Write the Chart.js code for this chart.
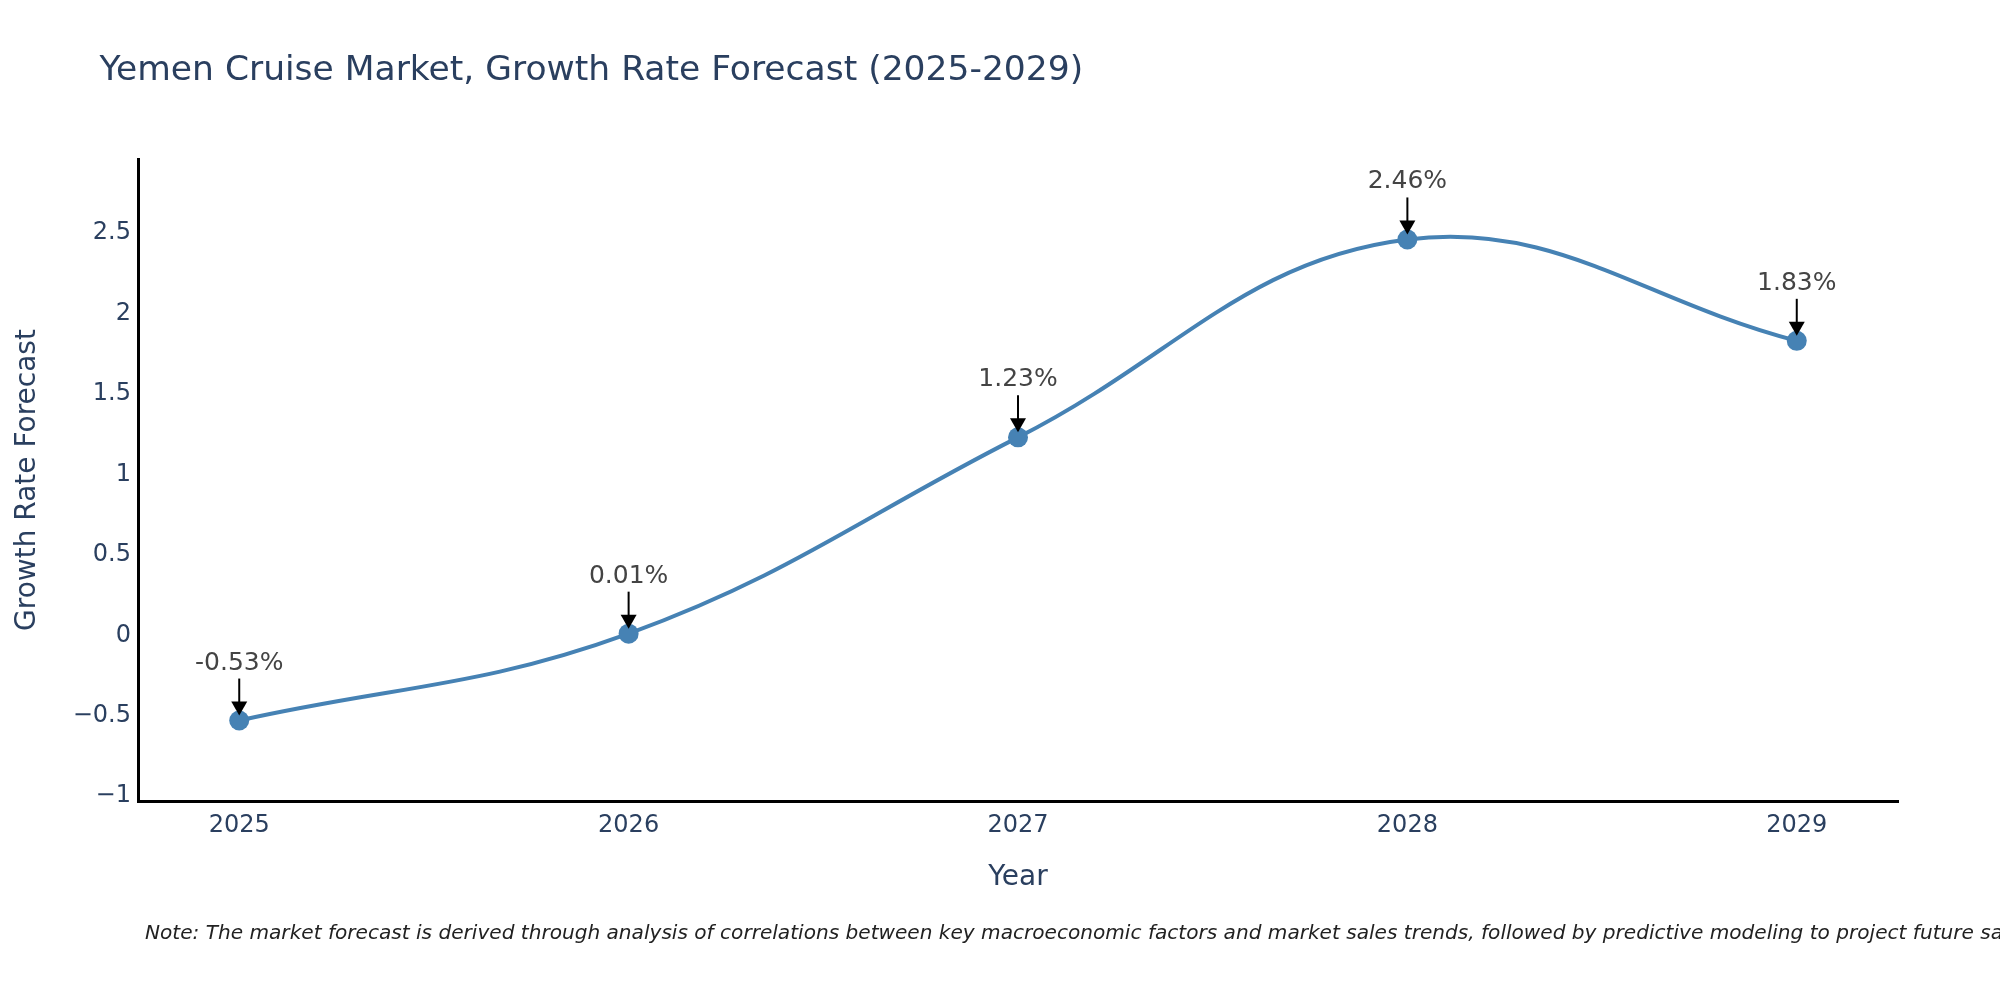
<!DOCTYPE html>
<html>
<head>
<meta charset="utf-8">
<script src="https://cdn.jsdelivr.net/npm/chart.js@4.4.0/dist/chart.umd.min.js"></script>
<style>
html,body{margin:0;padding:0;background:#fff;}
#c{display:block;}
</style>
</head>
<body>
<canvas id="c" width="2000" height="1000"></canvas>
<script>
const years = [2025, 2026, 2027, 2028, 2029];
const growthRates = [-0.53, 0.01, 1.23, 2.46, 1.83];
const yTickValues = [-1, -0.5, 0, 0.5, 1, 1.5, 2, 2.5];
const xRange = [2024.74, 2029.26];
const yRange = [-1.03, 2.96];
const titleText = 'Yemen Cruise Market, Growth Rate Forecast (2025-2029)';
const xTitle = 'Year';
const yTitle = 'Growth Rate Forecast';
const noteText = 'Note: The market forecast is derived through analysis of correlations between key macroeconomic factors and market sales trends, followed by predictive modeling to project future sales.';

const FONT = "'DejaVu Sans', Verdana, sans-serif";
const LINE_COLOR = '#4682B4';

const textPlugin = {
  id: 'texts',
  afterDraw(chart) {
    const ctx = chart.ctx;
    const area = chart.chartArea;
    ctx.save();
    ctx.fillStyle = '#2a3f5f';
    ctx.textAlign = 'left';
    ctx.textBaseline = 'alphabetic';
    ctx.font = '34.5px ' + FONT;
    ctx.fillText(titleText, 99.5, 80);

    ctx.font = '28px ' + FONT;
    ctx.textAlign = 'center';
    ctx.fillText(xTitle, (area.left + area.right) / 2, 885);

    ctx.save();
    ctx.translate(35, (area.top + area.bottom) / 2);
    ctx.rotate(-Math.PI / 2);
    ctx.fillText(yTitle, 0, 0);
    ctx.restore();

    ctx.fillStyle = '#222';
    ctx.textAlign = 'left';
    ctx.font = 'italic 20.1px ' + FONT;
    ctx.fillText(noteText, 145, 939);
    ctx.restore();
  }
};

const annotationPlugin = {
  id: 'arrows',
  afterDatasetsDraw(chart) {
    const ctx = chart.ctx;
    const meta = chart.getDatasetMeta(0);
    ctx.save();
    meta.data.forEach((pt, i) => {
      const x = pt.x, y = pt.y;
      ctx.strokeStyle = '#000';
      ctx.fillStyle = '#000';
      ctx.lineWidth = 2;
      ctx.beginPath();
      ctx.moveTo(x, y - 42);
      ctx.lineTo(x, y - 16);
      ctx.stroke();
      ctx.beginPath();
      ctx.moveTo(x - 8, y - 19);
      ctx.lineTo(x + 8, y - 19);
      ctx.lineTo(x, y - 5);
      ctx.closePath();
      ctx.fill();
      ctx.fillStyle = '#444';
      ctx.font = '25px ' + FONT;
      ctx.textAlign = 'center';
      ctx.textBaseline = 'alphabetic';
      ctx.fillText(growthRates[i].toFixed(2) + '%', x, y - 51);
    });
    ctx.restore();
  }
};

new Chart(document.getElementById('c'), {
  type: 'line',
  data: {
    datasets: [{
      data: years.map((yr, i) => ({x: yr, y: growthRates[i]})),
      borderColor: LINE_COLOR,
      backgroundColor: LINE_COLOR,
      borderWidth: 4,
      tension: 0.4,
      pointRadius: 10,
      pointBackgroundColor: LINE_COLOR,
      pointBorderWidth: 0,
      pointHoverRadius: 10,
      clip: false,
      fill: false
    }]
  },
  options: {
    responsive: false,
    animation: false,
    devicePixelRatio: 1,
    layout: {padding: {left: 0, top: 159, right: 102, bottom: 0}},
    plugins: {legend: {display: false}, tooltip: {enabled: false}, title: {display: false}},
    scales: {
      x: {
        type: 'linear',
        min: xRange[0],
        max: xRange[1],
        afterFit: s => { s.height = 199; },
        afterBuildTicks: s => { s.ticks = years.map(v => ({value: v})); },
        grid: {display: false, drawTicks: false},
        border: {display: true, color: '#000', width: 3},
        ticks: {
          padding: 10,
          autoSkip: false,
          maxRotation: 0,
          color: '#2a3f5f',
          font: {family: FONT, size: 24},
          callback: v => String(v)
        }
      },
      y: {
        type: 'linear',
        min: yRange[0],
        max: yRange[1],
        afterFit: s => { s.width = 138; },
        afterBuildTicks: s => { s.ticks = yTickValues.map(v => ({value: v})); },
        grid: {display: false, drawTicks: false},
        border: {display: true, color: '#000', width: 3},
        ticks: {
          padding: 7,
          color: '#2a3f5f',
          font: {family: FONT, size: 24},
          callback: v => (v < 0 ? '\u2212' + Math.abs(v) : String(v))
        }
      }
    }
  },
  plugins: [textPlugin, annotationPlugin]
});
</script>
</body>
</html>
